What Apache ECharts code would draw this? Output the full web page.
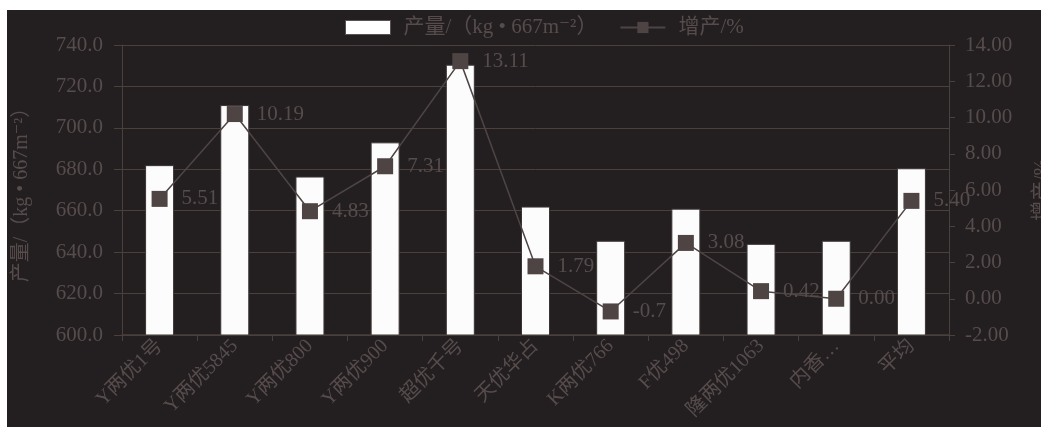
<!DOCTYPE html>
<html><head><meta charset="utf-8">
<script src="https://cdn.jsdelivr.net/npm/echarts@6/dist/echarts.min.js"></script>
<style>
html,body{margin:0;padding:0;background:#fff;width:1041px;height:427px;overflow:hidden}
#c{position:absolute;left:7px;top:10px;width:1034px;height:417px;background:#231f20}
</style></head><body><div id="c"></div>
<script>
const categories = ['Y两优1号','Y两优5845','Y两优800','Y两优900','超优千号','天优华占','K两优766','F优498','隆两优1063','内香…','平均'];
const yieldValues = [682, 711, 676.5, 693, 730.5, 662, 645.5, 661, 644, 645.5, 680.5];
const increaseValues = [5.51, 10.19, 4.83, 7.31, 13.11, 1.79, -0.7, 3.08, 0.42, 0.00, 5.40];
const increaseLabels = ['5.51','10.19','4.83','7.31','13.11','1.79','-0.7','3.08','0.42','0.00','5.40'];
const leftTicks = {min:600, max:740, interval:20};
const rightTicks = {min:-2, max:14, interval:2};

const txt = '#574c4c';
const serif = '"Liberation Serif","DejaVu Serif","Noto Sans CJK SC",serif';
const gridColor = '#4a403c';
const yieldName = '产量/（kg • 667m⁻²）';
const chart = echarts.init(document.getElementById('c'));
chart.setOption({
  backgroundColor:'#231f20',
  animation:false,
  legend:{
    left:333, top:2, itemGap:22,
    textStyle:{color:txt, fontSize:21, fontFamily:serif, padding:[0,0,0,8]},
    data:[
      {name:yieldName, icon:'rect', itemStyle:{color:'#fff', borderColor:'#5a5050', borderWidth:1}},
      {name:'增产/%'}
    ],
    itemWidth:45, itemHeight:14
  },
  grid:{left:115, right:92, top:35, bottom:92, containLabel:false, outerBoundsMode:'none'},
  xAxis:{
    type:'category', data:categories,
    axisLine:{show:true, onZero:false, lineStyle:{color:gridColor, width:1.5}},
    axisTick:{show:true, alignWithLabel:false, length:6, lineStyle:{color:gridColor}},
    axisLabel:{rotate:45, color:txt, fontSize:20, fontFamily:serif, margin:8, interval:0}
  },
  yAxis:[
    {type:'value', min:leftTicks.min, max:leftTicks.max, interval:leftTicks.interval,
     name:yieldName, nameLocation:'middle', nameGap:90, nameRotate:90,
     nameTextStyle:{color:txt, fontSize:20, fontFamily:serif},
     axisLine:{show:true, lineStyle:{color:gridColor}},
     axisTick:{show:true, inside:false, length:8, lineStyle:{color:gridColor}},
     axisLabel:{color:txt, fontSize:21, fontFamily:serif, margin:19, formatter:v=>v.toFixed(1)},
     splitLine:{show:true, lineStyle:{color:gridColor, width:1}}},
    {type:'value', min:rightTicks.min, max:rightTicks.max, interval:rightTicks.interval,
     name:'增产/%', nameLocation:'middle', nameGap:84, nameRotate:90,
     nameTextStyle:{color:txt, fontSize:20, fontFamily:serif},
     axisLine:{show:true, lineStyle:{color:gridColor}},
     axisTick:{show:true, length:6, lineStyle:{color:gridColor}},
     axisLabel:{color:txt, fontSize:21, fontFamily:serif, margin:16, formatter:v=>v.toFixed(2)},
     splitLine:{show:false}}
  ],
  series:[
    {name:yieldName, type:'bar', data:yieldValues, barWidth:29,
     itemStyle:{color:'#fdfcfc', borderColor:'#3c3434', borderWidth:1}},
    {name:'增产/%', type:'line', yAxisIndex:1, data:increaseValues,
     symbol:'rect', symbolSize:16,
     lineStyle:{color:'#4e4444', width:1.5},
     itemStyle:{color:'#4e4444'},
     label:{show:true, position:'right', distance:14, color:txt, fontSize:21, fontFamily:serif,
            formatter:p=>increaseLabels[p.dataIndex]}}
  ]
});
</script></body></html>
